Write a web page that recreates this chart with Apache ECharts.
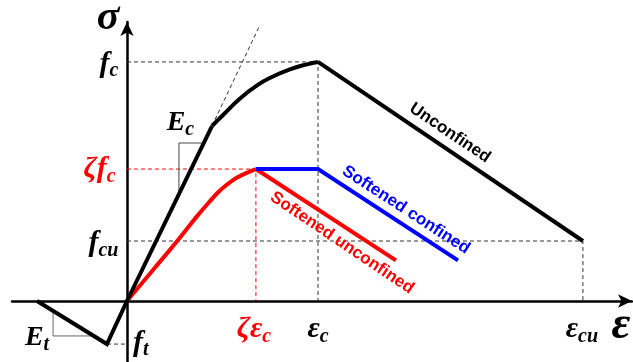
<!DOCTYPE html>
<html><head><meta charset="utf-8">
<script src="https://cdn.jsdelivr.net/npm/echarts@6/dist/echarts.min.js"></script>
<style>html,body{margin:0;padding:0;background:#fff}#c{width:633px;height:362px}</style>
</head><body><div id="c"></div>
<script>
// Normalised values: strain / eps_c, stress / f_c
const epsC = 1.0, fC = 1.0;
const zetaEpsC = 0.675, zetaFC = 0.552;
const epsCU = 2.387, fCU = 0.251;
const epsT = -0.105, fT = -0.180;
const tensionEnd = -0.471;

// Unconfined curve (black)
const unconfinedLinear = [[tensionEnd, 0], [epsT, fT], [0, 0], [0.445, 0.732]];
const unconfinedCurve = [[0.445, 0.732], [0.503, 0.778], [0.592, 0.847], [0.681, 0.902], [0.764, 0.939], [0.853, 0.969], [0.942, 0.990], [epsC, fC]];
const unconfinedSoftening = [[epsC, fC], [epsCU, fCU]];
// Softened unconfined (red)
const softUnconfAscending = [[0, 0], [0.136, 0.130], [0.262, 0.250], [0.365, 0.353], [0.435, 0.418], [0.487, 0.462], [0.555, 0.506], [0.618, 0.533], [zetaEpsC, zetaFC]];
const softUnconfDescending = [[zetaEpsC, zetaFC], [1.408, 0.170]];
// Softened confined (blue)
const softConfined = [[zetaEpsC, zetaFC], [epsC, zetaFC], [1.733, 0.170]];
// Tangent (initial modulus) dashed
const tangent = [[0.445, 0.732], [0.691, 1.146]];
// Modulus triangles
const triEc = [[0.272, 0.448], [0.272, 0.661], [0.403, 0.661]];
const triEt = [[-0.387, -0.042], [-0.387, -0.146], [-0.183, -0.146]];
// Guide lines
const guideFc = [[0, fC], [epsC, fC], [epsC, 0]];
const guideZeta = [[0, zetaFC], [zetaEpsC, zetaFC], [zetaEpsC, 0]];
const guideFcu = [[0, fCU], [epsCU, fCU], [epsCU, 0]];
const guideFt = [[epsT, fT], [0, fT]];

const chart = echarts.init(document.getElementById('c'));
const dash = (data, color) => ({type: 'line', data, symbol: 'none', silent: true, z: 1, lineStyle: {color, width: 1, type: [4, 3]}});
const thin = (data, color) => ({type: 'line', data, symbol: 'none', silent: true, z: 2, lineStyle: {color, width: 1}});
const solid = (data, color, smooth) => ({type: 'line', data, symbol: 'none', silent: true, z: 3, smooth: smooth || false, lineStyle: {color, width: 4, join: 'miter'}});
const axisCommon = {
  type: 'value', splitLine: {show: false}, axisTick: {show: false}, axisLabel: {show: false},
  axisLine: {onZero: true, symbol: ['none', 'arrow'], symbolSize: [10, 14], lineStyle: {color: '#000', width: 2.5}}
};
chart.setOption({
  animation: false,
  backgroundColor: '#fff',
  grid: {left: 12, right: 1, top: 22, bottom: 0},
  xAxis: Object.assign({min: -0.602, max: 2.644}, axisCommon),
  yAxis: Object.assign({min: -0.255, max: 1.167}, axisCommon),
  series: [
    dash(guideFc, '#333'), dash(guideFcu, '#333'), dash(guideFt, '#333'), dash(guideZeta, '#ff0000'),
    dash(tangent, '#333'),
    thin(triEc, '#444'), thin(triEt, '#666'),
    solid(softUnconfAscending, '#ff0000', 0.5), solid(softUnconfDescending, '#ff0000'),
    solid(softConfined, '#0000ff'),
    solid(unconfinedLinear, '#000'), solid(unconfinedCurve, '#000', 0.5), solid(unconfinedSoftening, '#000')
  ]
});

const serif = 'Liberation Serif, Times New Roman, serif';
function rich(color, main, sub) {
  return {
    m: {fontFamily: serif, fontSize: main, fontWeight: 'bold', fontStyle: 'italic', fill: color, lineHeight: 34, verticalAlign: 'middle'},
    s: {fontFamily: serif, fontSize: sub, fontWeight: 'bold', fontStyle: 'italic', fill: color, lineHeight: 34, verticalAlign: 'bottom'}
  };
}
const mathLabels = [
  {text: '{m|σ}', x: -0.099, y: 1.185, color: '#000', main: 42, sub: 16, align: 'center'},
  {text: '{m|f}{s|c}', x: -0.045, y: 0.990, color: '#000', main: 30, sub: 20, align: 'right'},
  {text: '{m|ζf}{s|c}', x: -0.060, y: 0.550, color: '#ff0000', main: 30, sub: 20, align: 'right'},
  {text: '{m|f}{s|cu}', x: -0.045, y: 0.240, color: '#000', main: 30, sub: 20, align: 'right'},
  {text: '{m|E}{s|c}', x: 0.280, y: 0.745, color: '#000', main: 28, sub: 20, align: 'center'},
  {text: '{m|E}{s|t}', x: -0.471, y: -0.155, color: '#000', main: 28, sub: 20, align: 'center'},
  {text: '{m|f}{s|t}', x: 0.031, y: -0.175, color: '#000', main: 30, sub: 20, align: 'left'},
  {text: '{m|ζε}{s|c}', x: 0.665, y: -0.12, color: '#ff0000', main: 30, sub: 20, align: 'center'},
  {text: '{m|ε}{s|c}', x: epsC, y: -0.12, color: '#000', main: 30, sub: 20, align: 'center'},
  {text: '{m|ε}{s|cu}', x: epsCU - 0.005, y: -0.12, color: '#000', main: 30, sub: 20, align: 'center'},
  {text: '{m|ε}', x: 2.586, y: -0.105, color: '#000', main: 46, sub: 17, align: 'center'}
];
const curveLabels = [
  {text: 'Unconfined', x: 1.691, y: 0.703, color: '#000', angle: -34},
  {text: 'Softened confined', x: 1.461, y: 0.381, color: '#0000ff', angle: -33},
  {text: 'Softened unconfined', x: 1.126, y: 0.243, color: '#ff0000', angle: -34}
];
const graphics = [];
mathLabels.forEach(l => {
  const p = chart.convertToPixel({gridIndex: 0}, [l.x, l.y]);
  graphics.push({type: 'text', x: p[0], y: p[1], z: 10, style: {text: l.text, rich: rich(l.color, l.main, l.sub), align: l.align, verticalAlign: 'middle'}});
});
curveLabels.forEach(l => {
  const p = chart.convertToPixel({gridIndex: 0}, [l.x, l.y]);
  graphics.push({type: 'text', x: p[0], y: p[1], z: 10, rotation: l.angle * Math.PI / 180,
    style: {text: l.text, fill: l.color, font: 'bold 17px Liberation Sans, Arial, sans-serif', align: 'center', verticalAlign: 'middle'}});
});
chart.setOption({graphic: graphics});
</script></body></html>
